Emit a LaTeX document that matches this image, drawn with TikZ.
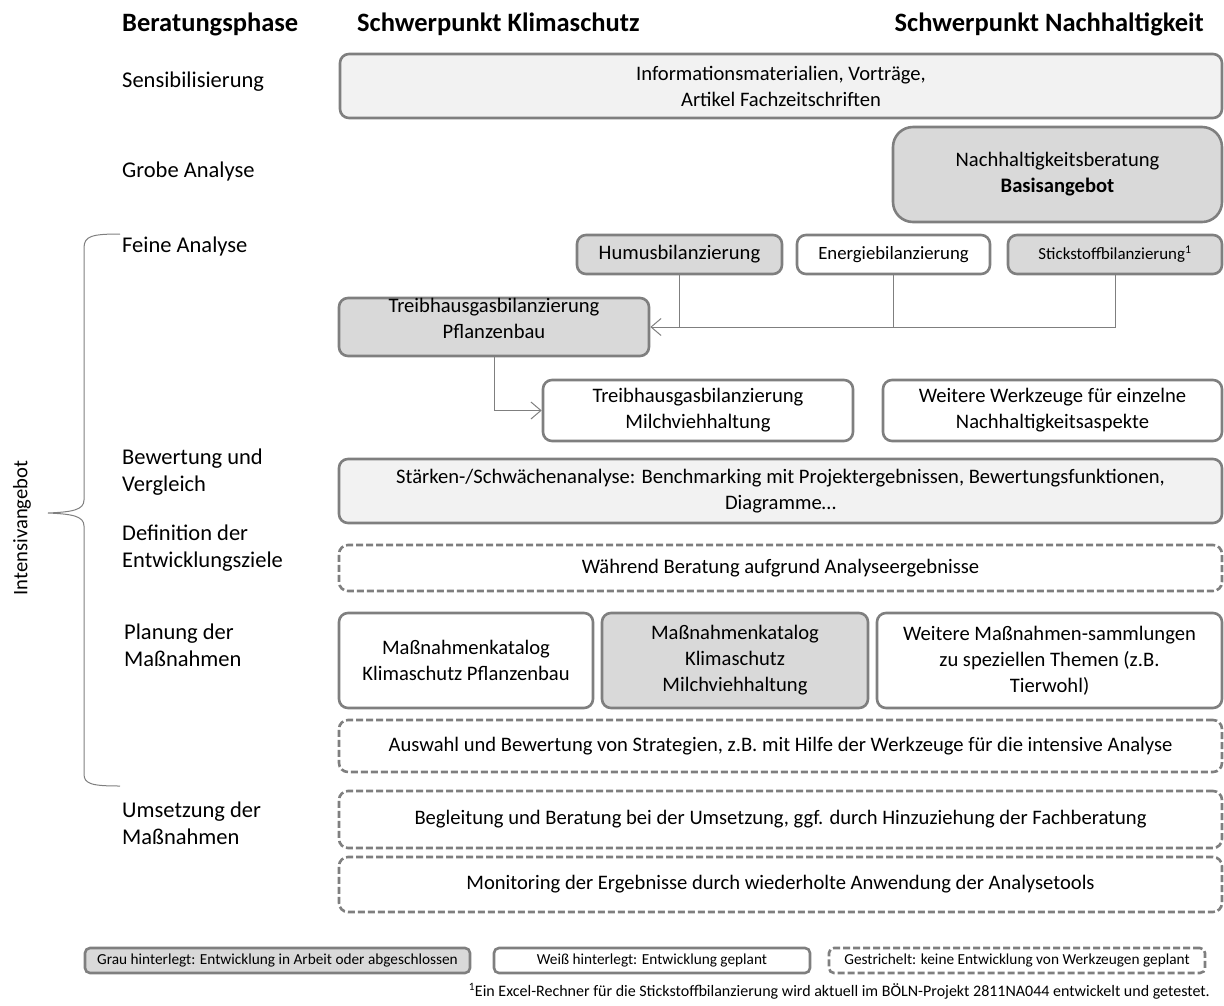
\documentclass[tikz,border=0pt]{standalone}
\usepackage{fontspec}
\setmainfont{Carlito}
\usetikzlibrary{arrows.meta}
\definecolor{rimgray}{HTML}{7F7F7F}
\definecolor{darkfill}{HTML}{D9D9D9}
\definecolor{lightfill}{HTML}{F2F2F2}
\newcommand{\mainsize}{\fontsize{20.6}{26}\selectfont}
\newcommand{\phasesize}{\fontsize{22.5}{27}\selectfont}
\newcommand{\legsize}{\fontsize{15.3}{18}\selectfont}
\begin{document}
\begin{tikzpicture}[x=1pt, y=-1pt,
	phase/.style={anchor=west, align=left, inner sep=0pt, font=\phasesize},
	head/.style={inner sep=0pt, font=\fontsize{26.5}{30}\selectfont\bfseries},
	box/.style={draw=rimgray, line width=2.6pt, rounded corners=9pt, align=center, inner sep=0pt, font=\mainsize},
	graybox/.style={box, fill=darkfill},
	lightbox/.style={box, fill=lightfill},
	whitebox/.style={box, fill=white},
	dashbox/.style={box, fill=white, dash pattern=on 7pt off 3pt},
	conn/.style={draw=rimgray, line width=1pt},
	>={Straight Barb[length=10pt, width=17pt]}]
	\useasboundingbox (0,0) rectangle (1224,1005);
	\node[head, anchor=west] (hphase) at (122,24) {Beratungsphase};
	\node[head, anchor=west] (hklima) at (357,24) {Schwerpunkt Klimaschutz};
	\node[head, anchor=east] (hnach) at (1204,24) {Schwerpunkt Nachhaltigkeit};
	\node[phase] (psens) at (122,82) {Sensibilisierung};
	\node[phase] (pgrob) at (122,171) {Grobe Analyse};
	\node[phase] (pfein) at (122,246) {Feine Analyse};
	\node[phase] (pbew) at (122,472) {Bewertung und\\Vergleich};
	\node[phase] (pdef) at (122,548) {Definition der\\Entwicklungsziele};
	\node[phase] (pplan) at (124,645) {Planung der\\Maßnahmen};
	\node[phase] (pums) at (122,823) {Umsetzung der\\Maßnahmen};
	\node[font=\mainsize, rotate=90] (intens) at (22,528) {Intensivangebot};
	\draw[rimgray, line width=1pt] (120,234) .. controls (92,234) and (84,236) .. (84,248) -- (84,500)
		.. controls (84,510) and (72,512) .. (48,513) .. controls (72,514) and (84,516) .. (84,526)
		-- (84,774) .. controls (84,784) and (92,786) .. (120,786);
	\node[lightbox, minimum width=882pt, minimum height=64pt] (info) at (781,86) {Informationsmaterialien, Vorträge,\\Artikel Fachzeitschriften};
	\node[graybox, rounded corners=20pt, minimum width=329pt, minimum height=95pt] (basis) at (1057.5,174.5) {Nachhaltigkeitsberatung\\\textbf{Basisangebot}};
	\node[graybox, minimum width=205pt, minimum height=39pt] (humus) at (679.5,254.5) {Humusbilanzierung};
	\node[whitebox, minimum width=193pt, minimum height=39pt, font=\fontsize{18.75}{22}\selectfont] (energie) at (893.5,254.5) {Energiebilanzierung};
	\node[graybox, minimum width=214pt, minimum height=39pt, font=\fontsize{16.9}{20}\selectfont] (stick) at (1115,254.5) {Stickstoffbilanzierung\textsuperscript{1}};
	\node[graybox, minimum width=310pt, minimum height=58pt, text depth=17pt] (pflanz) at (494,327) {Treibhausgasbilanzierung\\Pflanzenbau};
	\node[whitebox, minimum width=310pt, minimum height=61pt] (milch) at (698,410.5) {Treibhausgasbilanzierung\\Milchviehhaltung};
	\node[whitebox, minimum width=339pt, minimum height=61pt] (werkz) at (1052.5,410.5) {Weitere Werkzeuge für einzelne\\Nachhaltigkeitsaspekte};
	\draw[conn] (humus.south) -- (humus.south |- pflanz.east);
	\draw[conn] (energie.south) -- (energie.south |- pflanz.east);
	\draw[conn, ->] (stick.south) |- (pflanz.east);
	\draw[conn, ->] (pflanz.south) |- (milch.west);
	\node[lightbox, minimum width=883pt, minimum height=64pt] (staerken) at (780.5,491) {Stärken-/Schwächenanalyse: Benchmarking mit Projektergebnissen, Bewertungsfunktionen,\\Diagramme…};
	\node[dashbox, minimum width=883pt, minimum height=46pt] (waehrend) at (780.5,568) {Während Beratung aufgrund Analyseergebnisse};
	\node[whitebox, minimum width=254pt, minimum height=95pt] (katpfl) at (466,660.5) {Maßnahmenkatalog\\Klimaschutz Pflanzenbau};
	\node[graybox, minimum width=266pt, minimum height=95pt] (katmilch) at (735,660.5) {Maßnahmenkatalog\\Klimaschutz\\Milchviehhaltung};
	\node[whitebox, minimum width=345pt, minimum height=95pt] (katweit) at (1049.5,660.5) {Weitere Maßnahmen-sammlungen\\zu speziellen Themen (z.B.\\Tierwohl)};
	\node[dashbox, minimum width=883pt, minimum height=52pt] (auswahl) at (780.5,746) {Auswahl und Bewertung von Strategien, z.B. mit Hilfe der Werkzeuge für die intensive Analyse};
	\node[dashbox, minimum width=883pt, minimum height=57pt] (begleit) at (780.5,819.5) {Begleitung und Beratung bei der Umsetzung, ggf. durch Hinzuziehung der Fachberatung};
	\node[dashbox, minimum width=883pt, minimum height=55pt] (monitor) at (780.5,884.5) {Monitoring der Ergebnisse durch wiederholte Anwendung der Analysetools};
	% Legende
	\node[graybox, rounded corners=5pt, minimum width=385pt, minimum height=25pt, font=\legsize] (leggrau) at (277.5,960.5) {Grau hinterlegt: Entwicklung in Arbeit oder abgeschlossen};
	\node[whitebox, rounded corners=5pt, minimum width=316pt, minimum height=25pt, font=\legsize] (legweiss) at (652,960.5) {Weiß hinterlegt: Entwicklung geplant};
	\node[dashbox, rounded corners=5pt, minimum width=376pt, minimum height=25pt, font=\legsize] (legstrich) at (1017,960.5) {Gestrichelt: keine Entwicklung von Werkzeugen geplant};
	\node[anchor=east, inner sep=0pt, font=\fontsize{16}{19}\selectfont] (fussnote) at (1210,991) {\textsuperscript{1}Ein Excel-Rechner für die Stickstoffbilanzierung wird aktuell im BÖLN-Projekt 2811NA044 entwickelt und getestet.};
\end{tikzpicture}
\end{document}
